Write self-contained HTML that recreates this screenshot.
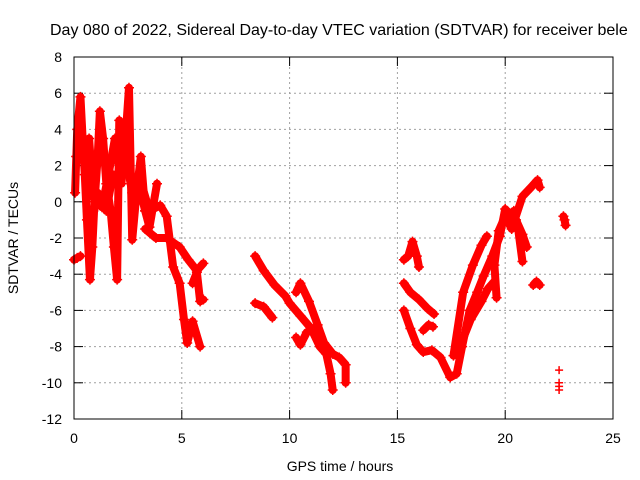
<!DOCTYPE html>
<html><head><meta charset="utf-8"><style>
body{margin:0;background:#fff}
svg{display:block;font-family:"Liberation Sans",Arial,sans-serif}
</style></head><body>
<svg id="c" width="640" height="480" viewBox="0 0 640 480">
<text x="50" y="35" font-size="16">Day 080 of 2022, Sidereal Day-to-day VTEC variation (SDTVAR) for receiver bele</text>
<text x="340" y="471" font-size="14" text-anchor="middle">GPS time / hours</text>
<text transform="translate(18,238) rotate(-90)" font-size="14" text-anchor="middle">SDTVAR / TECUs</text>
<g id="grid"></g>
<g id="ticks"></g>
<g id="marks"></g>
<rect x="74" y="57" width="539" height="362" fill="none" stroke="#000" stroke-width="1"/>
</svg>
<script>
const xTicks=[0,5,10,15,20,25];
const yTicks=[8,6,4,2,0,-2,-4,-6,-8,-10,-12];
const s1t=[0.0,0.15,0.3];const s1v=[-3.2,-3.1,-3.0];
const s2t=[0.05,0.15,0.3,0.4,0.5,0.6,0.74,0.85,0.95,1.1,1.2,1.35,1.5,1.7,1.85,2.0,2.1,2.3,2.55,2.7,2.9,3.1,3.3,3.5,3.85];
const s2v=[0.5,4.0,5.8,3.5,1.5,-1.0,-4.3,-2.5,0.0,2.5,5.0,3.5,1.0,-0.5,-2.5,-4.3,4.5,2.0,6.3,-2.1,0.5,2.5,-0.5,-1.4,1.0];
const s3t=[0.1,0.3,0.5,0.7,0.9,1.1,1.3,1.6,1.9,2.2,2.4];
const s3v=[2.5,3.0,2.5,3.5,0.2,0.5,-0.3,1.5,3.5,1.0,4.0];
const s3bt=[0.9,1.2,1.5,1.8,2.1,2.4,2.7,3.0,3.3];
const s3bv=[-0.5,0.3,-0.5,1.5,1.5,2.5,0.5,1.0,-0.5];
const s4t=[3.0,3.5,4.0,4.3,4.6,4.9,5.1,5.25,5.5,5.85];
const s4v=[1.5,-0.5,-0.2,-0.8,-3.6,-4.5,-6.5,-7.8,-6.6,-8.0];
const s5t=[3.3,3.8,4.3,4.9,5.3,5.7,6.0];
const s5v=[-1.5,-2.0,-2.0,-2.5,-3.2,-3.8,-3.4];
const s6t=[5.5,5.7,5.85,6.0];const s6v=[-4.5,-3.9,-5.5,-5.4];
const s7t=[8.4,8.8,9.3,9.8,10.0,10.5,11.0,11.4,11.7,11.9,12.0];
const s7v=[-3.0,-3.8,-4.6,-5.2,-5.6,-6.3,-7.0,-8.0,-8.4,-9.5,-10.4];
const s8t=[8.4,8.8,9.2];const s8v=[-5.6,-5.8,-6.4];
const s9t=[10.3,10.5,10.9,11.3,11.6,12.0,12.3,12.6,12.6];
const s9v=[-5.0,-4.5,-5.5,-6.8,-7.8,-8.4,-8.6,-9.0,-10.0];
const s10t=[10.3,10.5,10.8];const s10v=[-7.5,-7.9,-7.2];
const s11t=[15.3,15.5,15.7,15.9,16.0];const s11v=[-3.2,-3.0,-2.2,-3.0,-3.6];
const s12t=[15.3,15.6,16.0,16.4,16.7];const s12v=[-4.5,-5.0,-5.4,-5.9,-6.2];
const s13t=[15.3,15.6,15.9,16.2,16.6,17.0,17.45,17.75,18.0,18.35,18.7,19.0,19.4,19.75,20.0,20.3,20.5,20.8,21.0];
const s13v=[-6.0,-7.0,-7.9,-8.3,-8.2,-8.6,-9.7,-9.5,-8.0,-6.0,-5.0,-4.1,-3.0,-1.9,-0.4,-0.8,-1.0,-1.8,-2.5];
const s14t=[16.2,16.45,16.65];const s14v=[-7.1,-6.8,-6.9];
const s15t=[17.6,18.05,18.5,18.9,19.15];const s15v=[-8.5,-5.0,-3.5,-2.4,-1.9];
const s16t=[17.9,18.4,18.9,19.2,19.5];const s16v=[-8.0,-6.5,-5.5,-4.8,-4.4];
const s17t=[19.6,19.5,19.7,20.0,20.3,20.8,21.2,21.5,21.6];
const s17v=[-5.3,-3.5,-1.6,-0.8,-1.5,0.3,0.8,1.2,0.8];
const s18t=[20.4,20.6,20.8];const s18v=[-0.5,-1.5,-3.3];
const s19t=[21.3,21.45,21.6];const s19v=[-4.6,-4.4,-4.6];
const s20t=[22.7,22.75,22.8];const s20v=[-0.8,-1.0,-1.3];
const p1t=[22.5,22.5,22.5,22.5];const p1v=[-9.3,-10.0,-10.2,-10.4];

const X=t=>74+t*21.56, Y=v=>57+(8-v)*18.1;
const NS='http://www.w3.org/2000/svg';
const mk=(tag,at,par)=>{const e=document.createElementNS(NS,tag);for(const k in at)e.setAttribute(k,at[k]);par.appendChild(e);return e;};
const grid=document.getElementById('grid'),ticks=document.getElementById('ticks'),marks=document.getElementById('marks');
xTicks.forEach(t=>{
 if(t>0&&t<25){const g=mk('line',{x1:X(t),x2:X(t),y1:57,y2:419,stroke:'#a0a0a0','stroke-dasharray':'2,3'},grid);
 
 }
 mk('line',{x1:X(t),x2:X(t),y1:419,y2:410,stroke:'#000'},ticks);
 mk('line',{x1:X(t),x2:X(t),y1:57,y2:66,stroke:'#000'},ticks);
 const l=mk('text',{x:X(t),y:443,'font-size':14,'text-anchor':'middle'},ticks);l.textContent=t;
 
 
});
yTicks.forEach(v=>{
 if(v<8&&v>-12){const g=mk('line',{x1:74,x2:613,y1:Y(v),y2:Y(v),stroke:'#a0a0a0','stroke-dasharray':'2,3'},grid);
 
 }
 mk('line',{x1:74,x2:83,y1:Y(v),y2:Y(v),stroke:'#000'},ticks);
 mk('line',{x1:604,x2:613,y1:Y(v),y2:Y(v),stroke:'#000'},ticks);
 const l=mk('text',{x:62,y:Y(v)+5,'font-size':14,'text-anchor':'end'},ticks);l.textContent=v;
 
 
});
const series=[[s1t,s1v],[s2t,s2v],[s3t,s3v],[s3bt,s3bv],[s4t,s4v],[s5t,s5v],[s6t,s6v],[s7t,s7v],[s8t,s8v],[s9t,s9v],[s10t,s10v],[s11t,s11v],[s12t,s12v],[s13t,s13v],[s14t,s14v],[s15t,s15v],[s16t,s16v],[s17t,s17v],[s18t,s18v],[s19t,s19v],[s20t,s20v]];
series.forEach(([ts,vs],i)=>{
 const pts=ts.map((t,j)=>X(t)+','+Y(vs[j])).join(' ');
 const pl=mk('polyline',{points:pts,fill:'none',stroke:'#ff0000','stroke-width':8,'stroke-linejoin':'round','stroke-linecap':'round'},marks);
 
 
 ts.forEach((t,j)=>{
  const p=mk('path',{d:`M${X(t)-5},${Y(vs[j])}h10M${X(t)},${Y(vs[j])-5}v10`,stroke:'#ff0000','stroke-width':1.5},marks);
  
  
 });
});
p1t.forEach((t,j)=>{
 const p=mk('path',{d:`M${X(t)-4},${Y(p1v[j])}h8M${X(t)},${Y(p1v[j])-4}v8`,stroke:'#ff0000','stroke-width':1.5},marks);
 
 
});
</script>
</body></html>
